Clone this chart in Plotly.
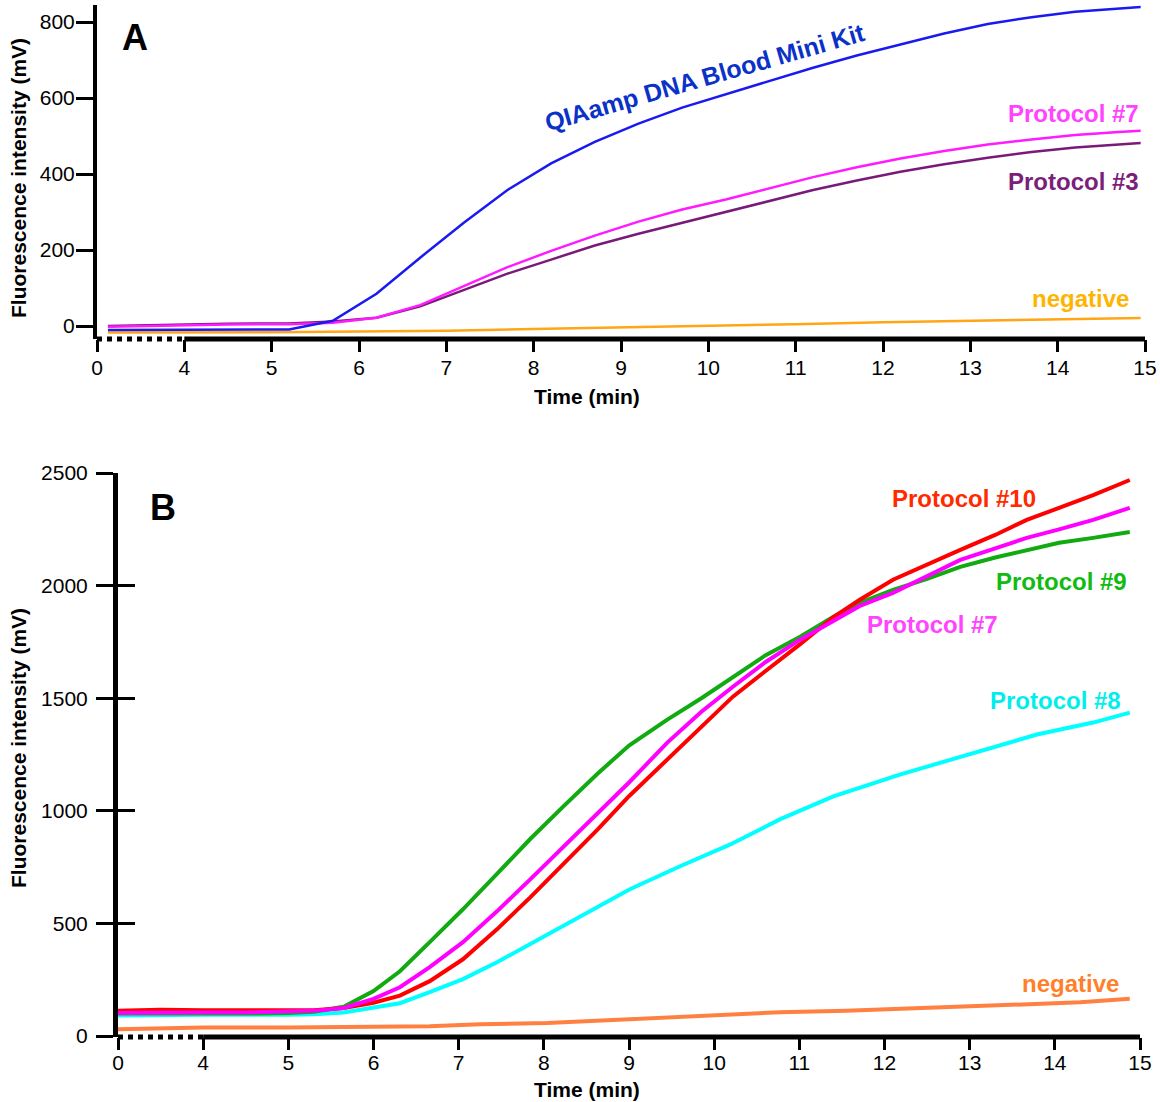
import plotly.graph_objects as go

# ---------------- data: panel A ----------------
tA = [0.5, 4, 4.5, 5, 5.2, 5.7, 6.2, 6.7, 7.2, 7.7, 8.2, 8.7, 9.2, 9.7, 10.2,
      10.7, 11.2, 11.7, 12.2, 12.7, 13.2, 13.7, 14.2, 14.7, 14.95]
qiaamp = [-10, -10, -10, -10, -9, 14, 85, 180, 272, 358, 428, 485, 533, 575, 610,
          645, 680, 712, 742, 770, 795, 813, 827, 836, 840]
protoA7 = [-2, 3, 4, 5, 5, 9, 22, 55, 105, 155, 198, 238, 275, 307, 333,
           362, 392, 418, 441, 461, 478, 491, 503, 511, 514]
protoA3 = [0, 5, 6, 7, 7, 12, 22, 52, 95, 138, 175, 212, 243, 272, 300,
           330, 358, 383, 406, 426, 443, 458, 470, 478, 482]
tA_neg = [0.5, 4, 5, 6, 7, 8, 9, 10, 11, 12, 13, 14, 14.95]
negA = [-17, -17, -16, -14, -12, -8, -4, 0, 5, 10, 14, 18, 21]

# ---------------- data: panel B ----------------
tB = [0, 2, 4, 4.5, 5, 5.3, 5.65, 6.0, 6.31, 6.66, 7.05, 7.45, 7.84, 8.23, 8.63,
      9.0, 9.45, 9.85, 10.22, 10.6, 11.01, 11.4, 11.71, 12.1, 12.5, 12.89, 13.3,
      13.67, 14.05, 14.45, 14.88]
protoB10 = [112, 117, 115, 115, 115, 115, 125, 148, 180, 244, 341, 474, 616, 762, 917,
            1065, 1228, 1375, 1507, 1620, 1740, 1860, 1937, 2026, 2095, 2159, 2225,
            2292, 2345, 2402, 2469]
protoB9 = [100, 102, 100, 100, 102, 108, 130, 200, 288, 417, 563, 720, 875, 1020, 1165,
           1290, 1405, 1500, 1596, 1690, 1773, 1862, 1924, 1981, 2030, 2083, 2125,
           2159, 2190, 2212, 2238]
protoB7 = [102, 105, 105, 105, 108, 112, 125, 165, 217, 306, 417, 554, 696, 842, 990,
           1126, 1303, 1440, 1551, 1660, 1760, 1845, 1910, 1968, 2040, 2114, 2165,
           2212, 2250, 2292, 2345]
tB8 = [0, 2, 4, 5, 5.3, 5.65, 6.08, 6.31, 6.66, 7.05, 7.45, 7.84, 8.43, 9.01, 9.6,
       10.19, 10.77, 11.4, 12.18, 12.89, 13.79, 14.45, 14.88]
protoB8 = [92, 95, 95, 95, 97, 105, 129, 146, 195, 253, 328, 408, 532, 652, 754,
           851, 962, 1064, 1161, 1241, 1339, 1392, 1436]
tB_neg = [0, 2, 4, 5, 6.08, 6.66, 7.25, 8.04, 8.81, 9.6, 10.39, 10.77, 11.55,
          12.78, 13.6, 14.3, 14.88]
negB = [30, 35, 38, 38, 40, 44, 53, 58, 71, 84, 98, 106, 112, 128, 140, 150, 166]

# axis ticks (broken time axis: 0 .. 4 compressed)
time_ticks = [0, 4, 5, 6, 7, 8, 9, 10, 11, 12, 13, 14, 15]
yticksA = [0, 200, 400, 600, 800]
yticksB = [0, 500, 1000, 1500, 2000, 2500]


def brk(t):
    # broken-axis scale: 0..4 min shown in one unit-width segment
    return [v if v >= 4 else 3 + v / 4.0 for v in t]


FONT = "Liberation Sans, Arial, sans-serif"
W, H = 1160, 1102


def px(x):
    return x / W


def py(y):
    return min(1.0, max(0.0, 1 - y / H))


fig = go.Figure()

# panel A traces
fig.add_trace(go.Scatter(x=brk(tA_neg), y=negA, mode="lines",
                         line=dict(color="#ffa516", width=2.5), xaxis="x", yaxis="y"))
fig.add_trace(go.Scatter(x=brk(tA), y=protoA3, mode="lines",
                         line=dict(color="#7a1a78", width=2.5), xaxis="x", yaxis="y"))
fig.add_trace(go.Scatter(x=brk(tA), y=protoA7, mode="lines",
                         line=dict(color="#ff1aff", width=2.5), xaxis="x", yaxis="y"))
fig.add_trace(go.Scatter(x=brk(tA), y=qiaamp, mode="lines",
                         line=dict(color="#1a1af0", width=2.5), xaxis="x", yaxis="y"))

# panel B traces
fig.add_trace(go.Scatter(x=brk(tB_neg), y=negB, mode="lines",
                         line=dict(color="#ff8040", width=4), xaxis="x2", yaxis="y2"))
fig.add_trace(go.Scatter(x=brk(tB8), y=protoB8, mode="lines",
                         line=dict(color="#00ffff", width=4), xaxis="x2", yaxis="y2"))
fig.add_trace(go.Scatter(x=brk(tB), y=protoB9, mode="lines",
                         line=dict(color="#11aa11", width=4), xaxis="x2", yaxis="y2"))
fig.add_trace(go.Scatter(x=brk(tB), y=protoB10, mode="lines",
                         line=dict(color="#ff0000", width=4), xaxis="x2", yaxis="y2"))
fig.add_trace(go.Scatter(x=brk(tB), y=protoB7, mode="lines",
                         line=dict(color="#ff00ff", width=4), xaxis="x2", yaxis="y2"))
# helper (empty) trace so that the inside-tick overlay axis is drawn
fig.add_trace(go.Scatter(x=[], y=[], xaxis="x2", yaxis="y3", hoverinfo="skip"))

tickfont = dict(family=FONT, size=21, color="black")

common_x = dict(range=[3, 15], tickvals=brk(time_ticks), ticktext=[str(t) for t in time_ticks],
                ticks="outside", ticklen=12, tickwidth=3, tickcolor="black",
                showline=False, showgrid=False, zeroline=False, tickfont=tickfont,
                automargin=False)

fig.update_layout(
    width=W, height=H, autosize=False,
    margin=dict(l=0, r=0, t=0, b=0, pad=0),
    paper_bgcolor="white", plot_bgcolor="white",
    showlegend=False,
    font=dict(family=FONT, color="black"),
    xaxis=dict(domain=[px(97), px(1145)], anchor="y", ticklabelstandoff=-2, **common_x),
    yaxis=dict(domain=[py(339), py(5)], anchor="x", range=[-34, 845],
               tickvals=yticksA, ticks="outside", ticklen=17, tickwidth=3,
               tickcolor="black", showline=True, linewidth=4, linecolor="black",
               showgrid=False, zeroline=False, tickfont=tickfont, ticklabelstandoff=-3,
               automargin=False),
    xaxis2=dict(domain=[px(118), px(1140)], anchor="y2", ticklabelstandoff=-5, **common_x),
    yaxis2=dict(domain=[py(1037), py(473)], anchor="x2", range=[-4, 2500],
                tickvals=yticksB, ticks="outside", ticklen=17, tickwidth=3,
                tickcolor="black", showline=True, linewidth=5, linecolor="black",
                showgrid=False, zeroline=False, tickfont=tickfont, ticklabelstandoff=4,
                automargin=False),
    yaxis3=dict(overlaying="y2", anchor="x2", side="left", range=[-4, 2500],
                tickvals=yticksB, ticks="inside", ticklen=17, tickwidth=3,
                tickcolor="black", showticklabels=False, showline=False,
                showgrid=False, zeroline=False, automargin=False),
)

# broken x-axis lines: dotted over the compressed 0-4 segment, solid after
shapes = []
for xr, yr in (("x", "y domain"), ("x2", "y2 domain")):
    shapes.append(dict(type="line", xref=xr, yref=yr, x0=4, x1=15, y0=0, y1=0,
                       line=dict(color="black", width=5)))
    shapes.append(dict(type="line", xref=xr, yref=yr, x0=3, x1=4, y0=0, y1=0,
                       line=dict(color="black", width=5, dash="dot")))
fig.update_layout(shapes=shapes)

ann = []


def label(text, x, y, color, size=24, xanchor="center", angle=0, bold=True):
    ann.append(dict(text=f"<b>{text}</b>" if bold else text, x=px(x), y=py(y),
                    xref="paper", yref="paper", xanchor=xanchor, yanchor="middle",
                    showarrow=False, textangle=angle,
                    font=dict(family=FONT, size=size, color=color)))


# panel letters
label("A", 135, 38, "black", size=36)
label("B", 163, 507, "black", size=36)
# axis titles
label("Fluorescence intensity (mV)", 18, 178, "black", size=21, angle=-90)
label("Fluorescence intensity (mV)", 18, 748, "black", size=21, angle=-90)
label("Time (min)", 587, 396, "black", size=21)
label("Time (min)", 587, 1089, "black", size=21)
# panel A series labels
label("QIAamp DNA Blood Mini Kit", 705, 77, "#0a32c8", size=25, angle=-16)
label("Protocol #7", 1141, 114, "#ff44ff", size=24, xanchor="right")
label("Protocol #3", 1141, 181, "#7b1f7b", size=24, xanchor="right")
label("negative", 1131, 299, "#ffb400", size=24, xanchor="right")
# panel B series labels
label("Protocol #10", 1038, 498, "#ff2a00", size=24, xanchor="right")
label("Protocol #9", 1129, 581, "#11bb11", size=24, xanchor="right")
label("Protocol #7", 1000, 624, "#ff44ff", size=24, xanchor="right")
label("Protocol #8", 1123, 700, "#00eeee", size=24, xanchor="right")
label("negative", 1121, 983, "#ff7f2a", size=24, xanchor="right")
fig.update_layout(annotations=ann)

# remove the default page margin so the figure fills the window exactly
fig.write_html("out.html",
               config={"displayModeBar": False},
               post_script="document.body.style.margin='0px';"
                           "document.body.style.overflow='hidden';")
